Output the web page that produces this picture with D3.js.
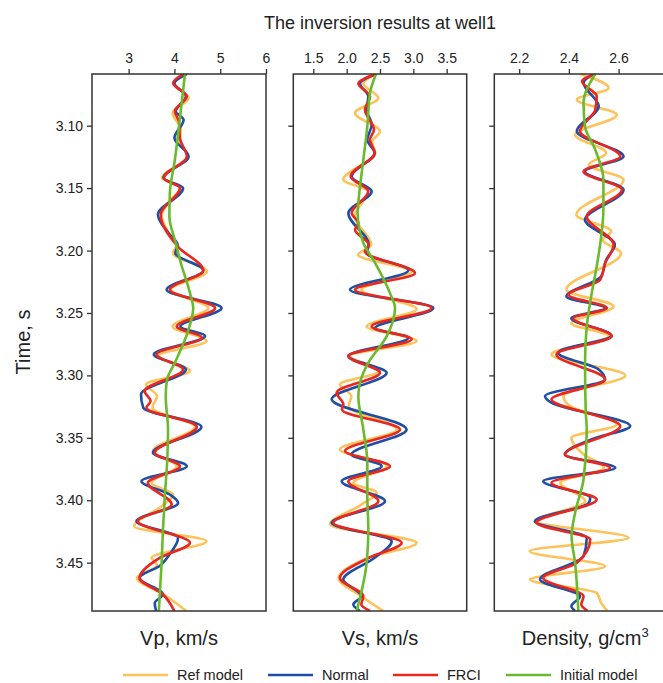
<!DOCTYPE html>
<html>
<head>
<meta charset="utf-8">
<script src="https://cdn.jsdelivr.net/npm/d3@7"></script>
<style>
  html, body { margin: 0; padding: 0; background: #fff; }
  svg { display: block; font-family: "Liberation Sans", Arial, sans-serif; }
</style>
</head>
<body>
<svg id="chart" width="663" height="683"></svg>
<script>
// ---------------- DATA ----------------
const title = "The inversion results at well1";
const timeTicks = [3.10, 3.15, 3.20, 3.25, 3.30, 3.35, 3.40, 3.45];
const timeDomain = [3.0586, 3.4887];

const vpTicks = [3, 4, 5, 6];
const vsTicks = [1.5, 2.0, 2.5, 3.0, 3.5];
const rhoTicks = [2.2, 2.4, 2.6];

const seriesNames = ["Ref model", "Normal", "FRCI", "Initial model"];
const panelLabels = ["Vp, km/s", "Vs, km/s", "Density, g/cm"];

// [time (s), value]
const vpRef = [[3.0586,4.22],[3.066,4.00],[3.0778,4.31],[3.0898,3.96],[3.103,4.14],[3.112,4.12],[3.1246,4.29],[3.1419,3.73],[3.150,4.14],[3.158,3.95],[3.172,3.72],[3.186,3.88],[3.1954,4.05],[3.2021,3.97],[3.2168,4.71],[3.2314,3.92],[3.2461,4.74],[3.2608,3.96],[3.2725,4.70],[3.2845,3.64],[3.2965,4.34],[3.3072,3.38],[3.3166,3.62],[3.3259,3.52],[3.3411,4.45],[3.3606,3.53],[3.3727,4.05],[3.386,3.50],[3.3954,3.97],[3.4047,3.72],[3.4208,3.12],[3.4328,4.70],[3.4461,3.50],[3.452,3.62],[3.4622,3.18],[3.4755,3.77],[3.4887,4.26]];
const vpNormal = [[3.0586,4.27],[3.066,4.00],[3.0765,4.25],[3.0885,4.03],[3.0952,4.20],[3.1099,4.00],[3.1246,4.31],[3.1419,3.76],[3.150,4.19],[3.1713,3.64],[3.186,3.87],[3.1954,4.07],[3.2021,4.02],[3.2159,4.63],[3.2314,3.83],[3.2461,5.03],[3.2608,4.13],[3.2685,4.67],[3.2832,3.55],[3.2952,4.25],[3.3152,3.27],[3.3259,3.32],[3.3411,4.59],[3.362,3.53],[3.3727,4.27],[3.3847,3.28],[3.3954,3.90],[3.4021,4.08],[3.4168,3.17],[3.4301,4.08],[3.445,3.86],[3.452,3.70],[3.4622,3.24],[3.4755,3.75],[3.4822,3.57],[3.4887,3.60]];
const vpFRCI = [[3.0586,4.19],[3.066,3.97],[3.0765,4.27],[3.0885,4.01],[3.097,4.10],[3.110,4.12],[3.1246,4.27],[3.1419,3.77],[3.150,4.12],[3.1713,3.70],[3.197,4.08],[3.2159,4.63],[3.2314,3.90],[3.2461,4.89],[3.2608,4.05],[3.2698,4.60],[3.2832,3.61],[3.2952,4.19],[3.3126,3.35],[3.3206,3.48],[3.3259,3.39],[3.3411,4.49],[3.362,3.57],[3.3727,4.12],[3.386,3.42],[3.4034,3.94],[3.4168,3.20],[3.4341,4.34],[3.4461,3.68],[3.4622,3.24],[3.4755,3.75],[3.4887,4.00]];
const vpInit = [[3.0586,4.23],[3.1005,4.10],[3.1273,4.01],[3.154,3.90],[3.1727,3.89],[3.194,4.03],[3.2074,4.12],[3.2341,4.34],[3.2461,4.41],[3.2631,4.31],[3.2898,4.01],[3.3032,3.84],[3.3166,3.81],[3.3433,3.86],[3.37,3.84],[3.3967,3.79],[3.4234,3.75],[3.4501,3.72],[3.4887,3.66]];

const vsRef = [[3.0586,2.44],[3.0663,2.25],[3.0778,2.475],[3.0898,2.125],[3.1045,2.50],[3.113,2.38],[3.1219,2.43],[3.1433,1.95],[3.1526,2.32],[3.1727,2.12],[3.1954,2.37],[3.2034,2.17],[3.2168,2.97],[3.2314,2.22],[3.2469,3.05],[3.2608,2.30],[3.2725,3.05],[3.2845,2.05],[3.2965,2.50],[3.3072,1.90],[3.3166,2.07],[3.3246,2.03],[3.3433,2.75],[3.3593,1.90],[3.3727,2.60],[3.386,2.10],[3.394,2.45],[3.4034,2.225],[3.4194,1.75],[3.4341,3.05],[3.446,2.33],[3.4622,1.88],[3.4769,2.22],[3.4887,2.55]];
const vsNormal = [[3.0586,2.44],[3.0663,2.20],[3.0765,2.325],[3.0872,2.30],[3.0992,2.375],[3.1112,2.31],[3.1219,2.42],[3.1406,2.075],[3.1526,2.375],[3.17,2.025],[3.1954,2.33],[3.2021,2.30],[3.2159,2.925],[3.2314,2.05],[3.2461,3.30],[3.2622,2.425],[3.2698,2.925],[3.2845,2.025],[3.2979,2.60],[3.3192,1.775],[3.3433,2.90],[3.3633,2.075],[3.3727,2.525],[3.3847,1.925],[3.4007,2.575],[3.4181,1.775],[3.4328,2.675],[3.4461,2.42],[3.4635,1.95],[3.4769,2.22],[3.4835,2.10],[3.4887,2.20]];
const vsFRCI = [[3.0586,2.44],[3.0663,2.175],[3.0765,2.35],[3.0872,2.275],[3.1032,2.41],[3.1112,2.35],[3.1219,2.42],[3.1406,2.06],[3.1526,2.325],[3.17,2.075],[3.178,2.175],[3.1834,2.125],[3.1954,2.33],[3.2007,2.275],[3.2181,3.025],[3.2314,2.125],[3.2461,3.275],[3.2608,2.375],[3.2711,2.975],[3.2845,2.025],[3.2979,2.50],[3.3139,1.85],[3.3232,1.95],[3.3273,1.93],[3.3433,2.80],[3.3606,1.975],[3.3727,2.65],[3.3847,2.025],[3.4007,2.475],[3.4181,1.80],[3.4341,2.825],[3.4461,2.33],[3.4622,1.90],[3.4769,2.25],[3.4835,2.22],[3.4887,2.35]];
const vsInit = [[3.0586,2.44],[3.0738,2.35],[3.1005,2.31],[3.1273,2.25],[3.154,2.19],[3.17,2.165],[3.194,2.25],[3.2074,2.40],[3.2341,2.65],[3.2461,2.725],[3.2688,2.60],[3.2898,2.325],[3.3059,2.20],[3.3166,2.175],[3.3433,2.25],[3.37,2.31],[3.3967,2.31],[3.4234,2.325],[3.4501,2.30],[3.4887,2.15]];

const rhoRef = [[3.0586,2.445],[3.0698,2.56],[3.0792,2.432],[3.0912,2.593],[3.1072,2.425],[3.1219,2.55],[3.1313,2.48],[3.1433,2.62],[3.1713,2.43],[3.1847,2.57],[3.1914,2.535],[3.2021,2.61],[3.2314,2.39],[3.2448,2.58],[3.2582,2.41],[3.2685,2.56],[3.2832,2.33],[3.30,2.627],[3.3166,2.378],[3.3246,2.405],[3.3393,2.593],[3.35,2.41],[3.3633,2.46],[3.374,2.54],[3.386,2.366],[3.4007,2.465],[3.4168,2.27],[3.4301,2.64],[3.4408,2.243],[3.4528,2.546],[3.4635,2.243],[3.4742,2.512],[3.4822,2.53],[3.4887,2.555]];
const rhoNormal = [[3.0586,2.499],[3.0658,2.459],[3.0845,2.52],[3.1045,2.432],[3.1246,2.62],[3.1366,2.465],[3.1513,2.62],[3.1753,2.465],[3.1954,2.585],[3.2074,2.55],[3.2208,2.53],[3.2368,2.39],[3.2461,2.545],[3.2542,2.41],[3.268,2.57],[3.2818,2.357],[3.2952,2.52],[3.3032,2.545],[3.3166,2.304],[3.3219,2.33],[3.3406,2.647],[3.3513,2.49],[3.3633,2.384],[3.374,2.587],[3.3847,2.297],[3.398,2.486],[3.4021,2.48],[3.4168,2.263],[3.4301,2.472],[3.4448,2.459],[3.4635,2.284],[3.4769,2.445],[3.4849,2.41],[3.4887,2.425]];
const rhoFRCI = [[3.0586,2.506],[3.0645,2.453],[3.0765,2.512],[3.0872,2.506],[3.1045,2.445],[3.1246,2.607],[3.1366,2.459],[3.1513,2.613],[3.1727,2.472],[3.1954,2.58],[3.2101,2.546],[3.2234,2.526],[3.2355,2.398],[3.2461,2.553],[3.2542,2.418],[3.2685,2.573],[3.2832,2.35],[3.3032,2.546],[3.3192,2.33],[3.3406,2.607],[3.3633,2.384],[3.374,2.566],[3.386,2.33],[3.3994,2.512],[3.4181,2.27],[3.4314,2.486],[3.4501,2.432],[3.4622,2.297],[3.4769,2.459],[3.4835,2.45],[3.4887,2.475]];
const rhoInit = [[3.0586,2.506],[3.0818,2.459],[3.1005,2.465],[3.1192,2.506],[3.1433,2.539],[3.1673,2.539],[3.1887,2.53],[3.2127,2.512],[3.2341,2.492],[3.2608,2.472],[3.2898,2.465],[3.3299,2.468],[3.3433,2.472],[3.3834,2.459],[3.41,2.425],[3.4288,2.411],[3.4501,2.425],[3.4887,2.438]];

// ---------------- LAYOUT / STYLE ----------------
const colors = ["#FDC25A", "#1F4EA6", "#E8281E", "#69BB2D"];
const yTop = 74, yBot = 611;
const panels = [
  { x0: 92,    x1: 266,   domain: [2.2, 6.0], ticks: vpTicks,  fmt: d3.format("d"),   label: panelLabels[0], sup: "",  series: [vpRef, vpNormal, vpFRCI, vpInit] },
  { x0: 293.3, x1: 466.7, domain: [1.2, 3.8], ticks: vsTicks,  fmt: d3.format(".1f"), label: panelLabels[1], sup: "",  series: [vsRef, vsNormal, vsFRCI, vsInit] },
  { x0: 494.3, x1: 668.3, domain: [2.1, 2.8], ticks: rhoTicks, fmt: d3.format(".1f"), label: panelLabels[2], sup: "3", series: [rhoRef, rhoNormal, rhoFRCI, rhoInit] }
];

const svg = d3.select("#chart");
const y = d3.scaleLinear().domain(timeDomain).range([yTop, yBot]);
const axisColor = "#333";

svg.append("text").attr("x", 380).attr("y", 29).attr("text-anchor", "middle")
  .attr("font-size", 18).attr("fill", "#222").text(title);

panels.forEach((p, i) => {
  const x = d3.scaleLinear().domain(p.domain).range([p.x0, p.x1]);
  const g = svg.append("g");

  const clipId = "clip" + i;
  svg.append("clipPath").attr("id", clipId).append("rect")
    .attr("x", p.x0).attr("y", yTop).attr("width", p.x1 - p.x0).attr("height", yBot - yTop);

  const ax = g.append("g").attr("transform", `translate(0,${yTop})`)
    .call(d3.axisTop(x).tickValues(p.ticks).tickFormat(p.fmt).tickSize(5).tickSizeOuter(0));
  ax.select(".domain").remove();
  ax.selectAll("line").attr("stroke", axisColor).attr("stroke-width", 1.3);
  ax.selectAll("text").attr("font-size", 14).attr("fill", "#222").attr("dy", "-0.2em")
    .attr("font-family", "Liberation Sans, Arial, sans-serif");

  const ay = g.append("g").attr("transform", `translate(${p.x0},0)`)
    .call(d3.axisLeft(y).tickValues(timeTicks).tickFormat(i === 0 ? d3.format(".2f") : () => "").tickSize(5).tickSizeOuter(0));
  ay.select(".domain").remove();
  ay.selectAll("line").attr("stroke", axisColor).attr("stroke-width", 1.3);
  ay.selectAll("text").attr("font-size", 14).attr("fill", "#222").attr("x", -9)
    .attr("font-family", "Liberation Sans, Arial, sans-serif");

  const line = d3.line().x(d => x(d[1])).y(d => y(d[0])).curve(d3.curveMonotoneY);
  const cg = g.append("g").attr("clip-path", `url(#${clipId})`);
  p.series.forEach((s, k) => {
    cg.append("path").datum(s).attr("d", line).attr("fill", "none")
      .attr("stroke", colors[k]).attr("stroke-width", 2.6).attr("stroke-linejoin", "round");
  });

  g.append("rect").attr("x", p.x0).attr("y", yTop).attr("width", p.x1 - p.x0).attr("height", yBot - yTop)
    .attr("fill", "none").attr("stroke", axisColor).attr("stroke-width", 1.5);

  const cx = (p.x0 + p.x1) / 2 + (p.sup ? 4 : 0);
  const t = svg.append("text").attr("x", cx).attr("y", 645).attr("text-anchor", "middle")
    .attr("font-size", 20).attr("fill", "#222");
  t.append("tspan").text(p.label);
  if (p.sup) t.append("tspan").attr("font-size", 13).attr("dy", -8).text(p.sup);
});

svg.append("text").attr("transform", "translate(30,342) rotate(-90)").attr("text-anchor", "middle")
  .attr("font-size", 20).attr("fill", "#222").text("Time, s");

const legendX = [123, 268, 393, 506];
const lg = svg.append("g");
seriesNames.forEach((n, k) => {
  lg.append("line").attr("x1", legendX[k]).attr("x2", legendX[k] + 45).attr("y1", 675).attr("y2", 675)
    .attr("stroke", colors[k]).attr("stroke-width", 2.6);
  lg.append("text").attr("x", legendX[k] + 54).attr("y", 680).attr("font-size", 14.5).attr("fill", "#222").text(n);
});
</script>
</body>
</html>
